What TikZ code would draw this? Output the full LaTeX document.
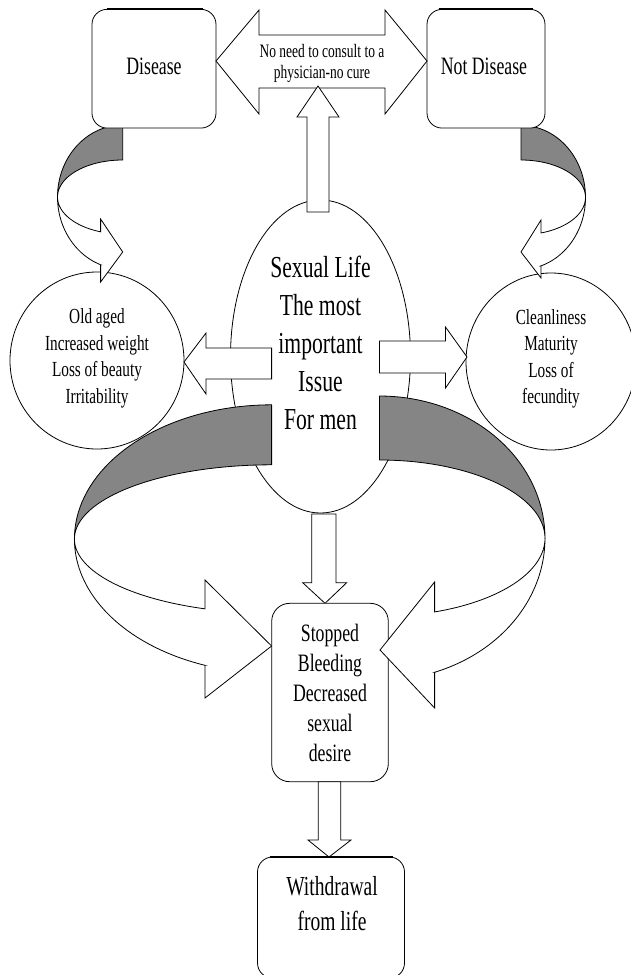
\documentclass[tikz,border=0pt]{standalone}
\usepackage{fontspec}
\setmainfont{Liberation Serif}[FakeStretch=0.71]
\usetikzlibrary{shapes.geometric,calc}
\tikzset{
  rbox/.style={draw, line width=0.8pt, fill=white, rounded corners=15pt, inner sep=0pt, align=center},
  circ/.style={ellipse, draw, line width=0.8pt, fill=white, inner sep=0pt},
  blockarrow/.style={draw, fill=white, line width=0.8pt, line join=miter},
  backband/.style={draw, fill=black!48, line width=0.8pt, line join=round},
  frontband/.style={draw, fill=white, line width=0.8pt, line join=miter},
  lbl/.style={inner sep=0pt, align=center},
  topline/.style={line width=1.8pt},
}
% #1 cx, #2 cy, #3 rx (signed), #4 ry small, #5 ry large, #6 head base x, #7 upper barb y, #8 lower barb y, #9 tip
\newcommand{\bendarrow}[9]{%
  \pgfmathsetmacro{\bendT}{acos((#6-(#1))/(#3))}%
  \pgfmathsetmacro{\bendS}{sin(\bendT)}%
  \pgfmathsetmacro{\bendYS}{#2+#4*\bendS}%
  \pgfmathsetmacro{\bendYL}{#2+#5*\bendS}%
  \path[backband] plot[domain=270:180,samples=40,variable=\ang] ({#1+(#3)*cos(\ang)},{#2+#5*sin(\ang)})
     -- plot[domain=180:270,samples=40,variable=\ang] ({#1+(#3)*cos(\ang)},{#2+#4*sin(\ang)}) -- cycle;
  \path[frontband] plot[domain=180:\bendT,samples=40,variable=\ang] ({#1+(#3)*cos(\ang)},{#2+#4*sin(\ang)})
     -- (#6,#7) -- (#9) -- (#6,#8) -- (#6,\bendYL)
     -- plot[domain=\bendT:180,samples=40,variable=\ang] ({#1+(#3)*cos(\ang)},{#2+#5*sin(\ang)}) -- cycle;
}
\begin{document}
\begin{tikzpicture}[x=1pt,y=-1pt]
\useasboundingbox (0,0) rectangle (631,975);
% side circles and central ellipse
\node[circ, minimum width=174pt, minimum height=177pt] (old) at (97,360.5) {};
\node[circ, minimum width=170pt, minimum height=177pt] (clean) at (551,361.5) {};
\node[circ, minimum width=180pt, minimum height=313pt] (life) at (320.5,356.5) {};
% top curved arrows
\bendarrow{122.7}{197}{65.2}{37}{72}{100.6}{219}{282}{122.7,252}
\bendarrow{521}{197.4}{-64.5}{37.4}{72}{541}{220}{278}{521,252}
% top boxes
\node[rbox, minimum width=124pt, minimum height=118.7pt] (dis) at (154,68.7) {};
\node[rbox, minimum width=118pt, minimum height=118.7pt] (notdis) at (486,68.7) {};
\draw[topline] ($(dis.north west)+(15,0)$) -- ($(dis.north east)+(-13,0)$);
\draw[topline] ($(notdis.north west)+(12,0)$) -- ($(notdis.north east)+(-12,0)$);
% double arrow between boxes
\draw[blockarrow] (216,61) -- (259,10) -- (259,35) -- (385,35) -- (385,10) -- (427,61)
  -- (385,114) -- (385,88) -- (259,88) -- (259,114) -- cycle;
% up arrow from ellipse
\draw[blockarrow] (318,86) -- (339,117) -- (329,117) -- (329,212) -- (307,212) -- (307,117) -- (297,117) -- cycle;
% side arrows
\draw[blockarrow] (184,362) -- (206,333) -- (206,348) -- (271.6,348) -- (271.6,379) -- (206,379) -- (206,394) -- cycle;
\draw[blockarrow] (467,357) -- (445.5,327) -- (445.5,341) -- (379.5,341) -- (379.5,373) -- (445.5,373) -- (445.5,388) -- cycle;
% down arrow to stopped box
\draw[blockarrow] (311.7,514) -- (336,514) -- (336,582.7) -- (346.7,582.7) -- (325,603.3) -- (302.7,582.7) -- (311.7,582.7) -- cycle;
\node[rbox, rounded corners=18pt, minimum width=116.6pt, minimum height=178.4pt] (stop) at (330,692.5) {};
% big curved arrows
\bendarrow{271.6}{539}{197.2}{74.2}{134.2}{205}{580}{698}{271.6,646}
\bendarrow{379.5}{538.2}{-165.5}{78.2}{142.2}{434.6}{582}{708}{380,650}
% down arrow to withdrawal
\draw[blockarrow] (318.3,781.7) -- (340.7,781.7) -- (340.7,840) -- (351,840) -- (329,857) -- (308,840) -- (318.3,840) -- cycle;
\node[rbox, minimum width=147pt, minimum height=121pt] (with) at (331,917.5) {};
\draw[topline] ($(with.north west)+(13,0)$) -- ($(with.north east)+(-12,0)$);
% texts
\node[lbl, font=\fontsize{25}{29}\selectfont] (dist) at (154,66.5) {Disease};
\node[lbl, font=\fontsize{25}{29}\selectfont] (notdist) at (484,66.5) {Not Disease};
\node[lbl, font=\fontsize{19}{21}\selectfont] (nocure) at (322,63.5) {No need to consult to a\\physician-no cure};
\node[lbl, font=\fontsize{30.5}{38}\selectfont] (lifet) at (320.5,343) {Sexual Life\\The most\\important\\Issue\\For men};
\node[lbl, font=\fontsize{21.5}{26.5}\selectfont] (oldt) at (97,358.2) {Old aged\\Increased weight\\Loss of beauty\\Irritability};
\node[lbl, font=\fontsize{21.5}{26.5}\selectfont] (cleant) at (551,359) {Cleanliness\\Maturity\\Loss of\\fecundity};
\node[lbl, font=\fontsize{25}{30}\selectfont] (stopt) at (330,692.6) {Stopped\\Bleeding\\Decreased\\sexual\\desire};
\node[lbl, font=\fontsize{27.5}{35}\selectfont] (witht) at (332,903.2) {Withdrawal\\from life};
\end{tikzpicture}
\end{document}
